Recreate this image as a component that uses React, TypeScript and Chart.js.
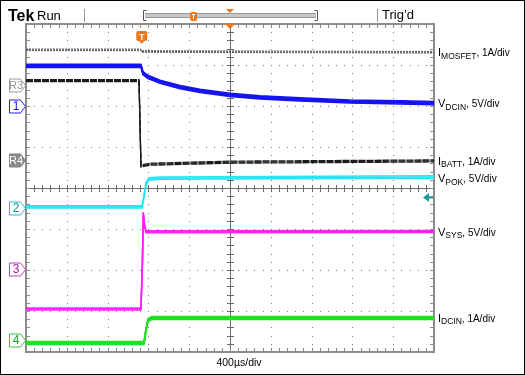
import React, { useEffect, useRef } from "react";
import { Chart, registerables } from "chart.js";
Chart.register(...registerables);

// Horizontal: time in µs (400 µs/div, 10 divisions). Vertical: screen divisions (0..8).
const X_MIN = -2000;
const X_MAX = 2000;
const Y_MIN = 0;
const Y_MAX = 8;

// I_MOSFET (grey reference trace)
const imosfetT = [-2000, -875, -865, 2000];
const imosfetV = [7.37, 7.37, 7.33, 7.31];

// V_DCIN (ch1, blue)
const vdcinT = [-2000, -873, -853, -804, -686, -490, -294, 0, 294, 686, 1176, 1667, 2000];
const vdcinV = [6.98, 6.98, 6.8, 6.71, 6.59, 6.46, 6.37, 6.27, 6.21, 6.16, 6.11, 6.09, 6.07];

// I_BATT (R4, black)
const ibattT = [-2000, -892, -873, -784, 0, 2000];
const ibattV = [6.62, 6.62, 4.54, 4.58, 4.63, 4.66];

// V_POK (ch2, cyan)
const vpokT = [-2000, -863, -843, -824, -794, -686, 2000];
const vpokV = [3.54, 3.54, 3.8, 4.1, 4.22, 4.24, 4.27];

// V_SYS (ch3, magenta)
const vsysT = [-2000, -873, -858, -850, -838, -824, 2000];
const vsysV = [1.05, 1.05, 2.24, 3.39, 3.1, 2.93, 2.94];

// I_DCIN (ch4, green)
const idcinT = [-2000, -843, -824, -804, -765, 2000];
const idcinV = [0.22, 0.22, 0.54, 0.78, 0.83, 0.83];

// Ground markers (divisions)
const markerNames = ["R3", "1", "R4", "2", "3", "4"];
const markerLevels = [6.51, 6.0, 4.68, 3.51, 2.02, 0.29];

// Right-hand labels
const labelMain = ["I", "V", "I", "V", "V", "I"];
const labelSub = ["MOSFET", "DCIN", "BATT", "POK", "SYS", "DCIN"];
const labelScale = [", 1A/div", ", 5V/div", ", 1A/div", ", 5V/div", ", 5V/div", ", 1A/div"];
const labelLevels = [7.31, 6.07, 4.66, 4.24, 2.93, 0.83];

const TRIGGER_T = -870;
const TRIGGER_LEVEL = 3.78;

const pts = (t: number[], v: number[]) => t.map((x, i) => ({ x, y: v[i] }));

const FONT = "'Liberation Sans', Arial, sans-serif";

const bandPlugin = {
  id: "band",
  afterDatasetDraw(chart: any, args: any) {
    const ds = chart.data.datasets[args.index];
    const offs: number[] = ds.bandOffsets || [];
    if (!offs.length) return;
    const { ctx, chartArea: a } = chart;
    ctx.save();
    ctx.beginPath();
    ctx.rect(a.left, a.top, a.right - a.left, a.bottom - a.top);
    ctx.clip();
    offs.forEach((o) => {
      ctx.save();
      ctx.translate(0, o);
      args.meta.dataset.draw(ctx, a);
      ctx.restore();
    });
    ctx.restore();
  },
};

const scopePlugin = {
  id: "scope",
  beforeDatasetsDraw(chart: any) {
    const { ctx, chartArea: a, scales } = chart;
    const xs = scales.x;
    const ys = scales.y;
    ctx.save();
    ctx.strokeStyle = "#000";
    ctx.lineWidth = 1;
    ctx.strokeRect(0.5, 0.5, chart.width - 1, chart.height - 1);

    ctx.fillStyle = "#7a7a7a";
    for (let d = 1; d < 8; d++) {
      const py = Math.round(ys.getPixelForValue(d));
      for (let m = 0; m <= 50; m++) {
        const px = Math.round(xs.getPixelForValue(X_MIN + m * 80));
        ctx.fillRect(px, py, 1, 1);
      }
    }
    for (let d = 1; d < 10; d++) {
      const px = Math.round(xs.getPixelForValue(X_MIN + d * 400));
      for (let m = 0; m <= 40; m++) {
        const py = Math.round(ys.getPixelForValue(m * 0.2));
        ctx.fillRect(px, py, 1, 1);
      }
    }
    const cy = Math.round(ys.getPixelForValue(4));
    const cx = Math.round(xs.getPixelForValue(0));
    ctx.fillStyle = "#6a6a6a";
    for (let m = 0; m <= 50; m++) {
      const px = Math.round(xs.getPixelForValue(X_MIN + m * 80));
      ctx.fillRect(px, cy - 3, 1, 7);
    }
    for (let m = 0; m <= 40; m++) {
      const py = Math.round(ys.getPixelForValue(m * 0.2));
      ctx.fillRect(cx - 3, py, 7, 1);
    }
    ctx.fillRect(a.left, cy, a.right - a.left, 1);
    ctx.fillRect(cx, a.top, 1, a.bottom - a.top);

    ctx.strokeStyle = "#8c8c8c";
    ctx.lineWidth = 2;
    ctx.strokeRect(a.left, a.top, a.right - a.left, a.bottom - a.top);
    ctx.fillStyle = "#8c8c8c";
    for (let m = 0; m <= 50; m++) {
      const px = Math.round(xs.getPixelForValue(X_MIN + m * 80));
      ctx.fillRect(px, a.top, 1, 4);
      ctx.fillRect(px, a.bottom - 4, 1, 4);
    }
    for (let m = 0; m <= 40; m++) {
      const py = Math.round(ys.getPixelForValue(m * 0.2));
      ctx.fillRect(a.left, py, 4, 1);
      ctx.fillRect(a.right - 4, py, 4, 1);
    }
    ctx.restore();
  },
  afterDatasetsDraw(chart: any) {
    const { ctx, chartArea: a, scales } = chart;
    const xs = scales.x;
    const ys = scales.y;
    ctx.save();

    ctx.fillStyle = "#000";
    ctx.textBaseline = "alphabetic";
    ctx.font = `bold 16px ${FONT}`;
    ctx.fillText("Tek", 8, 21);
    ctx.font = `13px ${FONT}`;
    ctx.fillText("Run", 37, 20);
    ctx.fillText("Trig\u2019d", 382, 19);
    ctx.fillStyle = "#999";
    ctx.fillRect(84, 9, 1, 13);
    ctx.fillRect(377, 9, 1, 13);
    ctx.strokeStyle = "#555";
    ctx.lineWidth = 1;
    ctx.beginPath();
    ctx.moveTo(146.5, 10.5); ctx.lineTo(143.5, 10.5); ctx.lineTo(143.5, 20.5); ctx.lineTo(146.5, 20.5);
    ctx.moveTo(314.5, 10.5); ctx.lineTo(317.5, 10.5); ctx.lineTo(317.5, 20.5); ctx.lineTo(314.5, 20.5);
    ctx.stroke();
    ctx.fillStyle = "#c8c8c8";
    ctx.fillRect(145, 14, 171, 3);
    ctx.fillStyle = "#999";
    ctx.fillRect(145, 13, 171, 1);
    ctx.fillRect(145, 17, 171, 1);
    ctx.fillStyle = "#f07818";
    ctx.beginPath();
    ctx.roundRect(190, 12, 7, 9, 2);
    ctx.fill();
    ctx.fillStyle = "#fff";
    ctx.fillRect(192, 14, 3, 1);
    ctx.fillRect(193, 14, 1, 5);
    ctx.fillStyle = "#f07818";
    ctx.beginPath();
    ctx.moveTo(226, 9); ctx.lineTo(234, 9); ctx.lineTo(230, 13); ctx.closePath();
    ctx.fill();

    const tx = xs.getPixelForValue(TRIGGER_T);
    ctx.fillStyle = "#f07818";
    ctx.beginPath();
    ctx.roundRect(tx - 5, 31, 11, 10, 2);
    ctx.fill();
    ctx.beginPath();
    ctx.moveTo(tx - 2, 41); ctx.lineTo(tx + 3, 41); ctx.lineTo(tx + 0.5, 44); ctx.closePath();
    ctx.fill();
    ctx.fillStyle = "#fff";
    ctx.font = `bold 9px ${FONT}`;
    ctx.textAlign = "center";
    ctx.fillText("T", tx + 0.5, 40);
    ctx.fillStyle = "#f07818";
    const cx = xs.getPixelForValue(0);
    ctx.beginPath();
    ctx.moveTo(cx - 5, a.top); ctx.lineTo(cx + 5, a.top); ctx.lineTo(cx, a.top + 5); ctx.closePath();
    ctx.fill();

    // trigger level arrow
    const ty = Math.round(ys.getPixelForValue(TRIGGER_LEVEL)) + 0.5;
    ctx.strokeStyle = "#1a9a9a";
    ctx.fillStyle = "#1a9a9a";
    ctx.lineWidth = 2;
    ctx.beginPath();
    ctx.moveTo(428, ty); ctx.lineTo(433, ty);
    ctx.stroke();
    ctx.beginPath();
    ctx.moveTo(423, ty); ctx.lineTo(429, ty - 4.5); ctx.lineTo(429, ty + 4.5); ctx.closePath();
    ctx.fill();

    const mStyles: Record<string, { stroke: string; fill: string; text: string }> = {
      R3: { stroke: "#9a9a9a", fill: "#fff", text: "#9a9a9a" },
      R4: { stroke: "#808080", fill: "#8a8a8a", text: "#fff" },
      "1": { stroke: "#2020d0", fill: "#fff", text: "#2020d0" },
      "2": { stroke: "#30b8c0", fill: "#fff", text: "#1a9090" },
      "3": { stroke: "#c040c0", fill: "#fff", text: "#a020a0" },
      "4": { stroke: "#40c040", fill: "#fff", text: "#2a9a2a" },
    };
    markerNames.forEach((name, i) => {
      const my = Math.round(ys.getPixelForValue(markerLevels[i])) + 0.5;
      const s = mStyles[name];
      ctx.beginPath();
      ctx.moveTo(9.5, my - 6.5);
      ctx.lineTo(20.5, my - 6.5);
      ctx.lineTo(25.5, my);
      ctx.lineTo(20.5, my + 6.5);
      ctx.lineTo(9.5, my + 6.5);
      ctx.closePath();
      ctx.fillStyle = s.fill;
      ctx.fill();
      ctx.strokeStyle = s.stroke;
      ctx.lineWidth = 1;
      ctx.stroke();
      ctx.fillStyle = s.text;
      ctx.textAlign = "center";
      ctx.textBaseline = "middle";
      ctx.font = name.length > 1 ? `11px ${FONT}` : `12px ${FONT}`;
      ctx.fillText(name, 16, my + 0.5);
    });

    ctx.textAlign = "left";
    ctx.textBaseline = "alphabetic";
    ctx.fillStyle = "#000";
    labelMain.forEach((m, i) => {
      const ly = ys.getPixelForValue(labelLevels[i]) + 4;
      let x = 438;
      ctx.font = `11px ${FONT}`;
      ctx.fillText(m, x, ly);
      x += ctx.measureText(m).width;
      ctx.font = `8.5px ${FONT}`;
      ctx.fillText(labelSub[i], x, ly + 2.5);
      x += ctx.measureText(labelSub[i]).width;
      ctx.font = `10px ${FONT}`;
      ctx.fillText(labelScale[i], x, ly);
    });

    ctx.font = `10.5px ${FONT}`;
    ctx.textAlign = "center";
    ctx.fillText("400\u00b5s/div", 239, 366);
    ctx.restore();
  },
};

export default function App() {
  const ref = useRef<HTMLCanvasElement | null>(null);
  useEffect(() => {
    document.body.style.margin = "0";
    const canvas = ref.current;
    if (!canvas) return;
    const line = (data: any, color: string, width: number, bandOffsets: number[], dash: number[] = []) => ({
      data,
      borderColor: color,
      borderWidth: width,
      borderDash: dash,
      pointRadius: 0,
      tension: 0,
      fill: false,
      bandOffsets,
    });
    const chart = new Chart(canvas, {
      type: "line",
      data: {
        datasets: [
          line(pts(imosfetT, imosfetV), "#5a5a5a", 1, [-0.8, 0.8], [2, 1]),
          line(pts(ibattT, ibattV), "#1c1c1c", 1.3, [-1, 1], [7, 1]),
          line(pts(vdcinT, vdcinV), "#1414f0", 1.5, [-1.6, -0.8, 0.8, 1.6]),
          line(pts(vsysT, vsysV), "#ff20ff", 1.5, [-1, 1]),
          line(pts(vpokT, vpokV), "#28e4f4", 1.5, [-1.2, 1.2]),
          line(pts(idcinT, idcinV), "#20e020", 1.5, [-1.5, -0.7, 0.7, 1.5]),
        ] as any,
      },
      options: {
        responsive: false,
        animation: false,
        layout: { padding: { left: 26, right: 91, top: 24, bottom: 23 } },
        plugins: { legend: { display: false }, tooltip: { enabled: false } },
        scales: {
          x: { type: "linear", min: X_MIN, max: X_MAX, display: false },
          y: { type: "linear", min: Y_MIN, max: Y_MAX, display: false },
        },
      },
      plugins: [scopePlugin, bandPlugin],
    });
    return () => chart.destroy();
  }, []);
  return <canvas ref={ref} width={525} height={375} style={{ display: "block" }} />;
}
